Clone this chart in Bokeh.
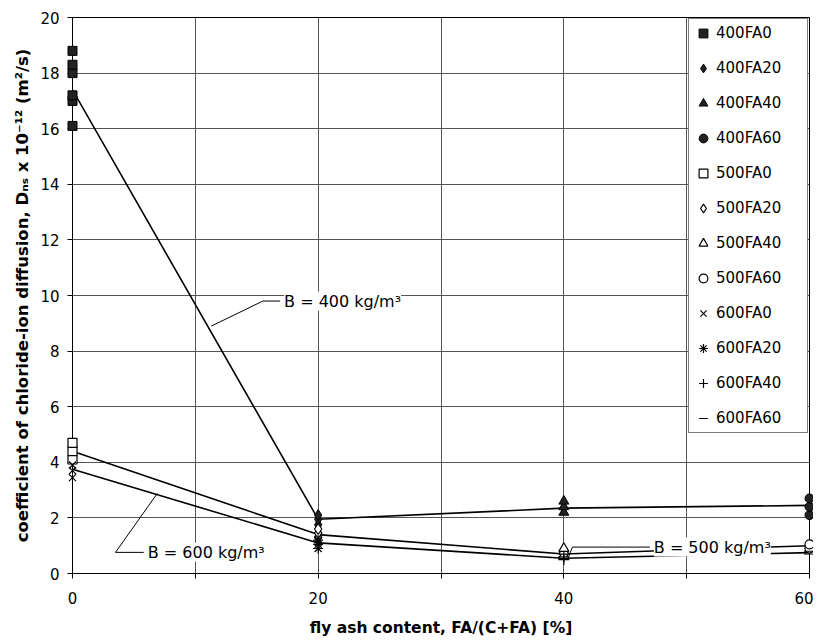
from bokeh.plotting import figure
from bokeh.models import FixedTicker, Label, Range1d
from bokeh.embed import file_html
from bokeh.resources import INLINE

# ---- data ----
fa_levels = [0, 20, 40, 60]

# replicate measurements per mix (D_ns x 1e-12 m2/s)
d_400FA0 = [16.1, 17.0, 17.2, 18.0, 18.3, 18.8]
d_400FA20 = [1.75, 1.95, 2.1]
d_400FA40 = [2.2, 2.4, 2.6]
d_400FA60 = [2.1, 2.4, 2.7]
d_500FA0 = [4.1, 4.4, 4.7]
d_500FA20 = [1.3, 1.45, 1.6]
d_500FA40 = [0.65, 0.8, 0.9]
d_500FA60 = [0.9, 1.05]
d_600FA0 = [3.45, 3.7, 3.9]
d_600FA20 = [0.9, 1.05, 1.2]
d_600FA40 = [0.5, 0.6]
d_600FA60 = [0.7, 0.8]

# mean lines per binder content
mean_400 = [17.4, 1.95, 2.35, 2.45]
mean_500 = [4.4, 1.4, 0.7, 1.0]
mean_600 = [3.75, 1.1, 0.55, 0.75]

x_ticks = [0, 10, 20, 30, 40, 50, 60]
y_ticks = [0, 2, 4, 6, 8, 10, 12, 14, 16, 18, 20]

# annotation leaders (data coords)
lead_400_x = [11.3, 15.5, 16.9]
lead_400_y = [8.9, 9.8, 9.8]
lead_600_x = [6.9, 3.5, 5.8]
lead_600_y = [2.88, 0.76, 0.76]
lead_500_x = [40.4, 40.7, 47.0]
lead_500_y = [0.62, 0.95, 0.95]

FONT = "DejaVu Sans"

p = figure(width=813, height=640, output_backend="svg", toolbar_location=None,
           x_range=Range1d(0, 60), y_range=Range1d(0, 20),
           min_border_left=72, min_border_right=4, min_border_top=17, min_border_bottom=67,
           x_axis_label="fly ash content, FA/(C+FA) [%]",
           y_axis_label="coefficient of chloride-ion diffusion, Dₙₛ x 10⁻¹² (m²/s)")

p.outline_line_color = "black"
p.outline_line_width = 1
p.background_fill_color = "white"

p.xaxis.ticker = FixedTicker(ticks=x_ticks)
p.xaxis.major_label_overrides = {10: "", 30: "", 50: ""}
p.yaxis.ticker = FixedTicker(ticks=y_ticks)
p.xgrid.ticker = FixedTicker(ticks=x_ticks)
p.ygrid.ticker = FixedTicker(ticks=y_ticks)
for g in (p.xgrid, p.ygrid):
    g.grid_line_color = "#555555"
    g.grid_line_width = 1

for ax in (p.xaxis, p.yaxis):
    ax.axis_line_color = "black"
    ax.major_tick_line_color = "black"
    ax.major_tick_out = 5
    ax.major_tick_in = 0
    ax.minor_tick_line_color = None
    ax.major_label_text_font = FONT
    ax.major_label_text_font_size = "15px"
    ax.major_label_text_color = "black"
    ax.axis_label_text_font = FONT
    ax.axis_label_text_font_style = "bold"
    ax.axis_label_text_color = "black"
p.xaxis.axis_label_text_font_size = "15.5px"
p.yaxis.axis_label_text_font_size = "16.5px"
p.xaxis.major_label_standoff = 13
p.xaxis.axis_label_standoff = 12
p.yaxis.major_label_standoff = 8
p.yaxis.axis_label_standoff = 5

# mean lines
for m in (mean_400, mean_500, mean_600):
    p.line(fa_levels, m, line_color="black", line_width=1.6)

# leader lines
for lx, ly in ((lead_400_x, lead_400_y), (lead_600_x, lead_600_y), (lead_500_x, lead_500_y)):
    p.line(lx, ly, line_color="black", line_width=1)

series = [
    ("400FA0", 0, d_400FA0, "square", True, 9),
    ("400FA20", 20, d_400FA20, "diamond", True, 11),
    ("400FA40", 40, d_400FA40, "triangle", True, 10),
    ("400FA60", 60, d_400FA60, "circle", True, 9),
    ("500FA0", 0, d_500FA0, "square", False, 9),
    ("500FA20", 20, d_500FA20, "diamond", False, 11),
    ("500FA40", 40, d_500FA40, "triangle", False, 10),
    ("500FA60", 60, d_500FA60, "circle", False, 9),
    ("600FA0", 0, d_600FA0, "x", False, 10),
    ("600FA20", 20, d_600FA20, "asterisk", False, 10),
    ("600FA40", 40, d_600FA40, "cross", False, 11),
    ("600FA60", 60, d_600FA60, "dash", True, 11),
]
for name, xv, vals, mk, filled, sz in series:
    r = p.scatter([xv] * len(vals), vals, marker=mk, size=sz,
                  fill_color="#222222" if filled else "white",
                  line_color="black", line_width=1.2 if not filled else 1,
                  legend_label=name)
    r.level = "overlay"

lg = p.legend[0]
lg.location = "top_right"
lg.margin = 1
lg.padding = 3
lg.spacing = 13
lg.label_height = 22
lg.glyph_height = 22
lg.glyph_width = 22
lg.label_standoff = 2
lg.label_width = 88
lg.label_text_font = FONT
lg.label_text_font_size = "15px"
lg.label_text_color = "black"
lg.border_line_color = "black"
lg.border_line_width = 1
lg.background_fill_alpha = 1.0

for txt, lx, ly in (("B = 400 kg/m³", lead_400_x[-1], lead_400_y[-1]),
                    ("B = 600 kg/m³", lead_600_x[-1], lead_600_y[-1]),
                    ("B = 500 kg/m³", lead_500_x[-1], lead_500_y[-1])):
    p.add_layout(Label(x=lx, y=ly, text=txt, x_offset=4, text_baseline="middle",
                       text_font=FONT, text_font_size="16px", text_color="black",
                       background_fill_color="white", background_fill_alpha=1.0))

open("out.html", "w").write(file_html(p, INLINE))
